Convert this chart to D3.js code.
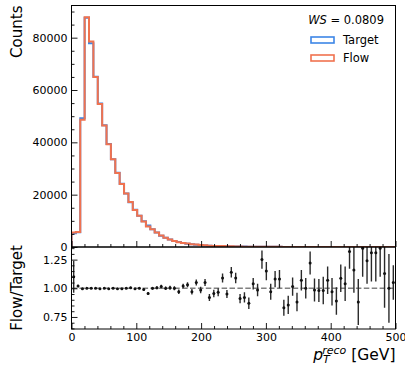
<!DOCTYPE html>
<html>
<head>
<meta charset="utf-8">
<script src="https://cdn.jsdelivr.net/npm/d3@7"></script>
<style>
  html, body { margin: 0; padding: 0; background: #fff; }
  svg { display: block; font-family: "DejaVu Sans", sans-serif; }
</style>
</head>
<body>
<svg id="chart" width="405" height="366"></svg>
<script>
// binning of p_T^reco
const nBins = 74;
const ptRange = [0, 500];

// histogram contents
const targetCounts = [
  5300, 5600, 49200, 87600, 77900, 65100, 54800, 46500, 39400, 33500,
  28400, 24200, 20400, 17100, 14200, 11900, 9850, 8200, 6750, 5500,
  4300, 3500, 2850, 2300, 1880, 1540, 1270, 1050, 870, 730,
  610, 510, 430, 365, 310, 265, 228, 196, 170, 148,
  129, 113, 99, 87, 77, 68, 60, 53, 47, 42,
  38, 34, 30, 27, 24, 22, 20, 18, 16, 15,
  14, 13, 12, 11, 10, 9, 9, 8, 8, 7,
  7, 6, 6, 5
];
const flowCounts = [
  5500, 5700, 48600, 87800, 78500, 65000, 54700, 46400, 39300, 33500,
  28300, 24100, 20400, 17200, 14100, 11900, 9750, 7850, 6750, 5520,
  4360, 3500, 2860, 2300, 1820, 1570, 1310, 1020, 910, 720,
  640, 470, 410, 352, 338, 252, 260, 214, 155, 136,
  112, 118, 98, 109, 89, 66, 65, 57, 39, 36,
  39, 30, 32, 27, 29, 22, 20, 18, 17, 15,
  12, 14, 12, 15, 12, 8, 12, 10, 10, 9,
  9, 7, 6, 5
];

// ratio panel
const ratioValues = [
  1.10, 1.02, 0.995, 1.00, 1.00, 1.00, 0.995, 1.00, 0.995, 1.00,
  0.995, 0.995, 1.00, 1.005, 0.995, 1.00, 0.99, 0.955, 1.00, 1.005,
  1.015, 1.00, 1.005, 1.00, 0.97, 1.02, 1.03, 0.97, 1.05, 0.985,
  1.05, 0.92, 0.955, 0.965, 1.09, 0.95, 1.14, 1.09, 0.91, 0.92,
  0.87, 1.04, 0.985, 1.25, 1.15, 0.97, 1.08, 1.08, 0.83, 0.855,
  1.015, 0.88, 1.07, 1.00, 1.22, 0.985, 0.98, 0.98, 1.07, 0.97,
  0.89, 1.087, 1.04, 1.32, 1.16, 0.88, 1.35, 1.24, 1.31, 1.31,
  1.35, 1.13, 1.00, 1.05
];
const ratioErrors = [
  0.14, 0.01, 0.004, 0.003, 0.003, 0.004, 0.004, 0.004, 0.005, 0.005,
  0.006, 0.006, 0.007, 0.008, 0.008, 0.009, 0.01, 0.012, 0.012, 0.013,
  0.015, 0.016, 0.017, 0.018, 0.02, 0.02, 0.022, 0.024, 0.026, 0.028,
  0.03, 0.03, 0.033, 0.035, 0.04, 0.035, 0.045, 0.045, 0.04, 0.045,
  0.05, 0.05, 0.055, 0.08, 0.08, 0.07, 0.07, 0.08, 0.07, 0.08,
  0.08, 0.08, 0.09, 0.09, 0.1, 0.1, 0.1, 0.12, 0.12, 0.12,
  0.12, 0.12, 0.15, 0.15, 0.2, 0.2, 0.25, 0.2, 0.25, 0.25,
  0.25, 0.3, 0.3, 0.15
];

const countTicks = [0, 20000, 40000, 60000, 80000];
const ratioTicks = [0.75, 1.00, 1.25];
const ptTicks = [0, 100, 200, 300, 400, 500];
const seriesNames = ['Target', 'Flow'];
const seriesColors = ['#3d86e6', '#f0724f'];
const wsValue = '0.0809';

// layout
const left = 71.5, right = 395.5;
const mainTop = 5.5, mainBottom = 247, ratioBottom = 329;
const majorLen = 6, minorLen = 3;

const svg = d3.select('#chart');

const x = d3.scaleLinear().domain(ptRange).range([left, right]);
const y = d3.scaleLinear().domain([0, 92300]).range([mainBottom, mainTop]);
const yr = d3.scaleLinear().domain([0.645, 1.36]).range([ratioBottom, mainBottom]);

const binW = (ptRange[1] - ptRange[0]) / nBins;
const edges = d3.range(nBins + 1).map(i => ptRange[0] + i * binW);

const defs = svg.append('defs');
defs.append('clipPath').attr('id', 'clip-main')
  .append('rect').attr('x', left).attr('y', mainTop)
  .attr('width', right - left).attr('height', mainBottom - mainTop);
defs.append('clipPath').attr('id', 'clip-ratio')
  .append('rect').attr('x', left).attr('y', mainBottom)
  .attr('width', right - left).attr('height', ratioBottom - mainBottom);

// step histograms
function stepPoints(counts) {
  const pts = [[edges[0], 0]];
  counts.forEach((c, i) => pts.push([edges[i], c]));
  pts.push([edges[nBins], counts[nBins - 1]]);
  pts.push([edges[nBins], 0]);
  return pts;
}
const stepLine = d3.line()
  .x(d => x(d[0]))
  .y(d => y(d[1]))
  .curve(d3.curveStepAfter);

const histG = svg.append('g').attr('clip-path', 'url(#clip-main)');
[targetCounts, flowCounts].forEach((counts, k) => {
  histG.append('path')
    .datum(stepPoints(counts))
    .attr('d', stepLine)
    .style('fill', 'none')
    .style('stroke', seriesColors[k])
    .style('stroke-width', 2)
    .style('stroke-linejoin', 'miter');
});

// ratio panel
const ratioG = svg.append('g').attr('clip-path', 'url(#clip-ratio)');
ratioG.append('line')
  .attr('x1', left).attr('x2', right)
  .attr('y1', yr(1)).attr('y2', yr(1))
  .style('stroke', '#808080')
  .style('stroke-width', 1.5)
  .style('stroke-dasharray', '5.5,2.4');

const centers = d3.range(nBins).map(i => edges[i] + binW / 2);
ratioG.append('g')
  .selectAll('line')
  .data(ratioValues)
  .enter()
  .append('line')
  .attr('x1', (d, i) => x(centers[i]))
  .attr('x2', (d, i) => x(centers[i]))
  .attr('y1', (d, i) => yr(d - ratioErrors[i]))
  .attr('y2', (d, i) => yr(d + ratioErrors[i]))
  .style('stroke', '#2a2a2a')
  .style('stroke-width', 1.4);
ratioG.append('g')
  .selectAll('circle')
  .data(ratioValues)
  .enter()
  .append('circle')
  .attr('cx', (d, i) => x(centers[i]))
  .attr('cy', d => yr(d))
  .attr('r', 1.5)
  .style('fill', '#111');

// axes, ticks pointing inward
function minorsOf(majors, step, lo, hi) {
  return d3.range(lo, hi + 1e-9, step).filter(v => !majors.some(m => Math.abs(m - v) < 1e-9));
}
function styleAxis(g) {
  g.select('.domain').remove();
  g.selectAll('.tick line').style('stroke', '#000').style('stroke-width', 0.9);
  g.selectAll('.tick text')
    .style('font-family', '"DejaVu Sans", sans-serif')
    .style('font-size', '11px')
    .style('fill', '#000');
}

// main y
svg.append('g').attr('transform', `translate(${left},0)`)
  .call(d3.axisLeft(y).tickValues(countTicks).tickSize(-majorLen).tickPadding(4).tickFormat(d3.format('d')))
  .call(styleAxis);
svg.append('g').attr('transform', `translate(${left},0)`)
  .call(d3.axisLeft(y).tickValues(minorsOf(countTicks, 5000, 0, 90000)).tickSize(-minorLen).tickFormat(''))
  .call(styleAxis);

// main x (no labels)
svg.append('g').attr('transform', `translate(0,${mainBottom})`)
  .call(d3.axisBottom(x).tickValues(ptTicks).tickSize(-majorLen).tickFormat(''))
  .call(styleAxis);
svg.append('g').attr('transform', `translate(0,${mainBottom})`)
  .call(d3.axisBottom(x).tickValues(minorsOf(ptTicks, 20, 0, 500)).tickSize(-minorLen).tickFormat(''))
  .call(styleAxis);

// ratio y
svg.append('g').attr('transform', `translate(${left},0)`)
  .call(d3.axisLeft(yr).tickValues(ratioTicks).tickSize(-majorLen).tickPadding(4).tickFormat(d3.format('.2f')))
  .call(styleAxis);
svg.append('g').attr('transform', `translate(${left},0)`)
  .call(d3.axisLeft(yr).tickValues(minorsOf(ratioTicks, 0.05, 0.65, 1.35)).tickSize(-minorLen).tickFormat(''))
  .call(styleAxis);

// ratio x
svg.append('g').attr('transform', `translate(0,${ratioBottom})`)
  .call(d3.axisBottom(x).tickValues(ptTicks).tickSize(-majorLen).tickPadding(4).tickFormat(d3.format('d')))
  .call(styleAxis);
svg.append('g').attr('transform', `translate(0,${ratioBottom})`)
  .call(d3.axisBottom(x).tickValues(minorsOf(ptTicks, 20, 0, 500)).tickSize(-minorLen).tickFormat(''))
  .call(styleAxis);

// frames
[[mainTop, mainBottom], [mainBottom, ratioBottom]].forEach(([t, b]) => {
  svg.append('rect')
    .attr('x', left).attr('y', t)
    .attr('width', right - left).attr('height', b - t)
    .style('fill', 'none')
    .style('stroke', '#000')
    .style('stroke-width', 1);
});

// axis labels
svg.append('text')
  .attr('transform', `translate(22,${mainTop}) rotate(-90)`)
  .attr('text-anchor', 'end')
  .style('font-size', '15px')
  .text('Counts');

svg.append('text')
  .attr('transform', `translate(22,${(mainBottom + ratioBottom) / 2}) rotate(-90)`)
  .attr('text-anchor', 'middle')
  .style('font-size', '15px')
  .text('Flow/Target');

const xl = svg.append('text')
  .attr('x', right)
  .attr('y', 360)
  .attr('text-anchor', 'end')
  .style('font-size', '15.5px');
xl.append('tspan').style('font-style', 'italic').text('p');
xl.append('tspan').style('font-style', 'italic').style('font-size', '11px').attr('dy', 3).text('T');
xl.append('tspan').style('font-style', 'italic').style('font-size', '11px').attr('dx', -6.7).attr('dy', -9).text('reco');
xl.append('tspan').attr('dy', 6).text('\u00a0[GeV]');

// legend
const ws = svg.append('text')
  .attr('x', 384)
  .attr('y', 24)
  .attr('text-anchor', 'end')
  .style('font-size', '11.5px');
ws.append('tspan').style('font-style', 'italic').text('WS');
ws.append('tspan').text(' = ' + wsValue);

seriesNames.forEach((name, k) => {
  const yy = 40 + k * 18;
  svg.append('rect')
    .attr('x', 311).attr('y', yy - 3)
    .attr('width', 23).attr('height', 6)
    .style('fill', 'none')
    .style('stroke', seriesColors[k])
    .style('stroke-width', 1.6);
  svg.append('text')
    .attr('x', 343)
    .attr('y', yy + 4)
    .style('font-size', '11.5px')
    .text(name);
});
</script>
</body>
</html>
